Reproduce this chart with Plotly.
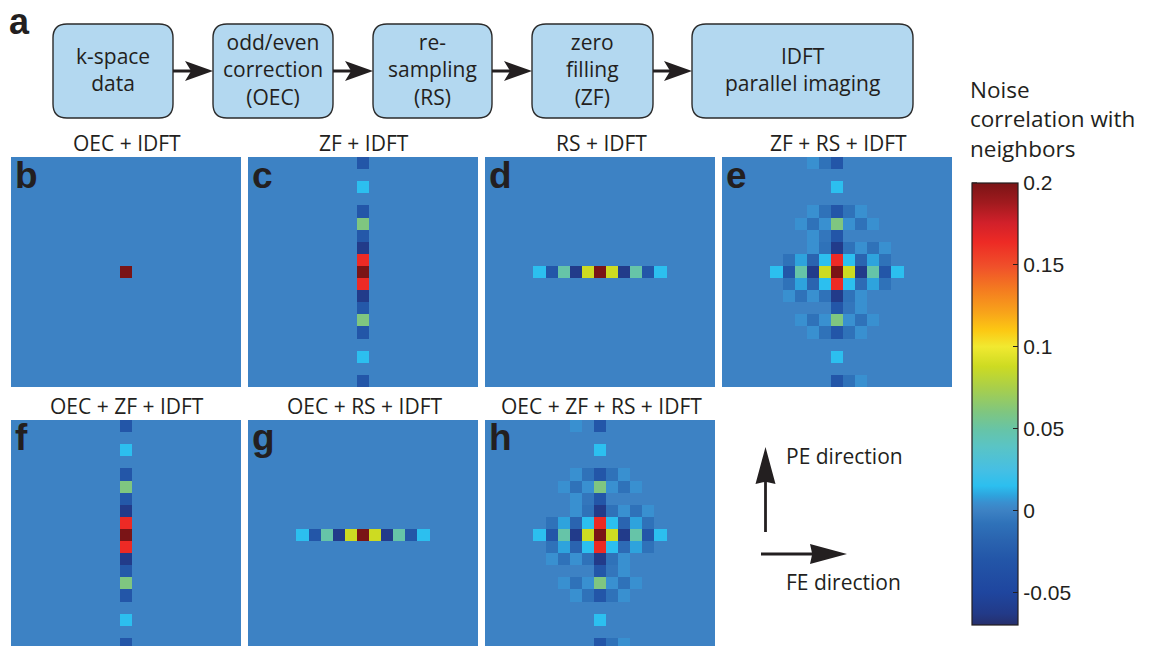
import plotly.graph_objects as go

# ---------------------------------------------------------------------------
# Data: noise correlation of a pixel with its neighbours (19 x 19 window)
# ---------------------------------------------------------------------------
OFFSETS = list(range(-9, 10))

# single-pixel correlation (only the pixel itself)
CENTER_VALUE = 0.2

# zero filling: correlation along the phase-encoding direction (offset -9..9)
ZF_PROFILE = [-0.03, 0, 0.015, 0, -0.03, 0.06, -0.028, -0.062, 0.164, 0.2,
              0.164, -0.062, -0.028, 0.06, -0.03, 0, 0.015, 0, -0.03]

# re-sampling: correlation along the frequency-encoding direction (offset -9..9)
RS_PROFILE = [0, 0, 0, 0, 0.015, -0.03, 0.049, -0.062, 0.088, 0.2,
              0.088, -0.062, 0.049, -0.03, 0.015, 0, 0, 0, 0]

# zero filling + re-sampling: full 2-D correlation map (rows top -> bottom)
ZF_RS_MAP = [
    [0, 0, 0, 0, 0, 0, 0, 0.005, -0.008, -0.03, 0, 0, 0, 0, 0, 0, 0, 0, 0],
    [0, 0, 0, 0, 0, 0, 0, 0, 0, 0, 0, 0, 0, 0, 0, 0, 0, 0, 0],
    [0, 0, 0, 0, 0, 0, 0, 0, 0, 0.015, 0, 0, 0, 0, 0, 0, 0, 0, 0],
    [0, 0, 0, 0, 0, 0, 0, 0, 0, 0, 0, 0, 0, 0, 0, 0, 0, 0, 0],
    [0, 0, 0, 0, 0, 0, 0, 0.005, -0.008, -0.03, -0.008, 0.005, 0, 0, 0, 0, 0, 0, 0],
    [0, 0, 0, 0, 0, 0, 0.005, -0.008, 0.005, 0.06, 0.005, -0.008, 0.005, 0, 0, 0, 0, 0, 0],
    [0, 0, 0, 0, 0, 0, 0, 0.005, -0.006, -0.03, 0, 0, 0, 0, 0, 0, 0, 0, 0],
    [0, 0, 0, 0, 0, 0, 0, 0.005, -0.008, -0.062, -0.008, 0.005, -0.008, 0.005, 0, 0, 0, 0, 0],
    [0, 0, 0, 0, 0, -0.008, 0.009, -0.018, 0.015, 0.164, 0.015, -0.018, 0.009, -0.008, 0, 0, 0, 0, 0],
    [0, 0, 0, 0, 0.015, -0.03, 0.049, -0.062, 0.088, 0.2, 0.088, -0.062, 0.049, -0.03, 0.015, 0, 0, 0, 0],
    [0, 0, 0, 0, 0, -0.008, 0.009, -0.018, 0.015, 0.164, 0.015, -0.013, 0.009, -0.008, 0, 0, 0, 0, 0],
    [0, 0, 0, 0, 0, 0.005, -0.008, 0.005, -0.008, -0.062, -0.008, 0.005, 0, 0, 0, 0, 0, 0, 0],
    [0, 0, 0, 0, 0, 0, 0, 0, 0, -0.03, -0.006, 0.005, 0, 0, 0, 0, 0, 0, 0],
    [0, 0, 0, 0, 0, 0, 0.005, -0.008, 0.005, 0.06, 0.005, -0.008, 0.005, 0, 0, 0, 0, 0, 0],
    [0, 0, 0, 0, 0, 0, 0, 0.005, -0.008, -0.03, -0.008, 0.005, 0, 0, 0, 0, 0, 0, 0],
    [0, 0, 0, 0, 0, 0, 0, 0, 0, 0, 0, 0, 0, 0, 0, 0, 0, 0, 0],
    [0, 0, 0, 0, 0, 0, 0, 0, 0, 0.015, 0, 0, 0, 0, 0, 0, 0, 0, 0],
    [0, 0, 0, 0, 0, 0, 0, 0, 0, 0, 0, 0, 0, 0, 0, 0, 0, 0, 0],
    [0, 0, 0, 0, 0, 0, 0, 0, 0, -0.03, -0.008, 0.005, 0, 0, 0, 0, 0, 0, 0],
]

# odd/even correction + zero filling + re-sampling
OEC_ZF_RS_MAP = [
    [0, 0, 0, 0, 0, 0, 0, 0.005, 0, -0.03, 0, 0, 0, 0, 0, 0, 0, 0, 0],
    [0, 0, 0, 0, 0, 0, 0, 0, 0, 0, 0, 0, 0, 0, 0, 0, 0, 0, 0],
    [0, 0, 0, 0, 0, 0, 0, 0, 0, 0.015, 0, 0, 0, 0, 0, 0, 0, 0, 0],
    [0, 0, 0, 0, 0, 0, 0, 0, 0, 0, 0, 0, 0, 0, 0, 0, 0, 0, 0],
    [0, 0, 0, 0, 0, 0, 0, 0.005, -0.008, -0.03, -0.008, 0.005, 0, 0, 0, 0, 0, 0, 0],
    [0, 0, 0, 0, 0, 0, 0.005, -0.008, 0.005, 0.06, 0.005, -0.008, 0.005, 0, 0, 0, 0, 0, 0],
    [0, 0, 0, 0, 0, 0, 0, 0.005, -0.006, -0.03, 0, 0, 0, 0, 0, 0, 0, 0, 0],
    [0, 0, 0, 0, 0, 0, 0, 0.005, -0.008, -0.062, -0.008, 0.005, -0.008, 0.005, 0, 0, 0, 0, 0],
    [0, 0, 0, 0, 0, -0.008, 0.009, -0.018, 0.015, 0.164, 0.015, -0.018, 0.009, -0.008, 0, 0, 0, 0, 0],
    [0, 0, 0, 0, 0.015, -0.03, 0.049, -0.062, 0.088, 0.2, 0.088, -0.062, 0.049, -0.03, 0.015, 0, 0, 0, 0],
    [0, 0, 0, 0, 0, -0.008, 0.009, -0.018, 0.015, 0.164, 0.015, -0.013, 0.009, -0.008, 0, 0, 0, 0, 0],
    [0, 0, 0, 0, 0, 0.005, -0.008, 0.005, -0.008, -0.062, -0.008, 0.005, 0, 0, 0, 0, 0, 0, 0],
    [0, 0, 0, 0, 0, 0, 0, 0, 0, -0.03, -0.006, 0.005, 0, 0, 0, 0, 0, 0, 0],
    [0, 0, 0, 0, 0, 0, 0.005, -0.008, 0.005, 0.06, 0.005, -0.008, 0.005, 0, 0, 0, 0, 0, 0],
    [0, 0, 0, 0, 0, 0, 0, 0.005, -0.008, -0.03, -0.008, 0.005, 0, 0, 0, 0, 0, 0, 0],
    [0, 0, 0, 0, 0, 0, 0, 0, 0, 0, 0, 0, 0, 0, 0, 0, 0, 0, 0],
    [0, 0, 0, 0, 0, 0, 0, 0, 0, 0.015, 0, 0, 0, 0, 0, 0, 0, 0, 0],
    [0, 0, 0, 0, 0, 0, 0, 0, 0, 0, 0, 0, 0, 0, 0, 0, 0, 0, 0],
    [0, 0, 0, 0, 0, 0, 0, 0, 0, -0.03, -0.008, 0.005, 0, 0, 0, 0, 0, 0, 0],
]

PANEL_LETTERS = ["b", "c", "d", "e", "f", "g", "h"]
PANEL_TITLES = ["OEC + IDFT", "ZF + IDFT", "RS + IDFT", "ZF + RS + IDFT",
                "OEC + ZF + IDFT", "OEC + RS + IDFT", "OEC + ZF + RS + IDFT"]

FLOW_STEPS = ["k-space<br>data", "odd/even<br>correction<br>(OEC)",
              "re-<br>sampling<br>(RS)", "zero<br>filling<br>(ZF)",
              "IDFT<br>parallel imaging"]

CBAR_TITLE = "Noise<br>correlation with<br>neighbors"
CBAR_TICKS = [0.2, 0.15, 0.1, 0.05, 0, -0.05]
CBAR_TICKTEXT = ["0.2", "0.15", "0.1", "0.05", "0", "-0.05"]
ZMIN, ZMAX = -0.07, 0.2

# jet-like palette as printed (value -> colour)
PALETTE_VALUES = [-0.07, -0.063, -0.05, -0.03, -0.018, -0.008, 0, 0.005, 0.009,
                  0.015, 0.025, 0.039, 0.049, 0.06, 0.075, 0.088, 0.1, 0.11,
                  0.121, 0.135, 0.149, 0.164, 0.176, 0.188, 0.2]
PALETTE_COLORS = ["#262f6c", "#223a88", "#1f469f", "#2356a8", "#2a64b0", "#2f72b9",
                  "#3d82c4", "#3990d0", "#2ea3dd", "#2cbfef", "#46bfe3", "#5ac4c5",
                  "#66c4a8", "#7fc680", "#a9cf4a", "#cddb22", "#f1e930", "#fcc813",
                  "#f8a31a", "#f47b20", "#f0502a", "#ed2a25", "#d0202a", "#a01a1e",
                  "#7a1416"]

# ---------------------------------------------------------------------------
# Helpers (pixel -> paper coordinates)
# ---------------------------------------------------------------------------
W, H = 1149, 646


def px(x):
    return x / W


def py(y):
    return 1 - y / H


def grid_zero():
    return [[0.0 for _ in OFFSETS] for _ in OFFSETS]


def point_map(value):
    z = grid_zero()
    z[9][9] = value
    return z


def column_map(profile):
    z = grid_zero()
    for i, v in enumerate(profile):
        z[i][9] = v
    return z


def row_map(profile):
    z = grid_zero()
    z[9] = list(profile)
    return z


maps = [point_map(CENTER_VALUE), column_map(ZF_PROFILE), row_map(RS_PROFILE),
        ZF_RS_MAP, column_map(ZF_PROFILE), row_map(RS_PROFILE), OEC_ZF_RS_MAP]

PANEL_SIZE = 230
col_left = [11, 248, 485, 722]
row_top = [157, 420]
panel_pos = [(col_left[i], row_top[0]) for i in range(4)] + \
            [(col_left[i], row_top[1]) for i in range(3)]

fig = go.Figure()
layout_axes = {}
n_cells = len(OFFSETS)
cell_px = PANEL_SIZE / n_cells

for i, (z, (left, top)) in enumerate(zip(maps, panel_pos), start=1):
    fig.add_trace(go.Heatmap(z=z, x=OFFSETS, y=OFFSETS, coloraxis="coloraxis",
                             xaxis=f"x{i}", yaxis=f"y{i}", hoverinfo="skip"))
    bottom = min(top + PANEL_SIZE, H)
    visible_rows = (bottom - top) / cell_px
    sfx = "" if i == 1 else str(i)
    layout_axes[f"xaxis{sfx}"] = dict(domain=[px(left), px(left + PANEL_SIZE)],
                                      range=[-9.5, 9.5], visible=False,
                                      anchor=f"y{i}", fixedrange=True)
    layout_axes[f"yaxis{sfx}"] = dict(domain=[py(bottom), py(top)],
                                      range=[-9.5 + visible_rows, -9.5],
                                      visible=False, anchor=f"x{i}", fixedrange=True)

colorscale = [[(v - ZMIN) / (ZMAX - ZMIN), c] for v, c in zip(PALETTE_VALUES, PALETTE_COLORS)]

CB_TOP, CB_BOTTOM, CB_LEFT, CB_W = 183, 625, 972, 46

TEXT = "#231f20"
annotations = []
shapes = []

# panel titles and letters
for (left, top), letter, title in zip(panel_pos, PANEL_LETTERS, PANEL_TITLES):
    annotations.append(dict(x=px(left + PANEL_SIZE / 2 + 1), y=py(top - 14), xref="paper", yref="paper",
                            text=title, showarrow=False, xanchor="center", yanchor="middle",
                            font=dict(family="Open Sans", size=21, color=TEXT)))
    annotations.append(dict(x=px(left + 2), y=py(top + 18), xref="paper", yref="paper",
                            text=f"<b>{letter}</b>", showarrow=False, xanchor="left", yanchor="middle",
                            font=dict(family="Liberation Sans", size=37, color=TEXT)))

annotations.append(dict(x=px(7), y=py(22), xref="paper", yref="paper", text="<b>a</b>",
                        showarrow=False, xanchor="left", yanchor="middle",
                        font=dict(family="Liberation Sans", size=36, color=TEXT)))

# flow diagram boxes
boxes = [(53, 173), (213, 333), (373, 492), (532, 653), (692, 913)]
BOX_TOP, BOX_BOTTOM, RAD = 24, 118, 14


def rounded_rect(x0, y0, x1, y1, r):
    rx, ry = r / W, r / H
    X0, X1, Y0, Y1 = px(x0), px(x1), py(y0), py(y1)
    return (f"M {X0 + rx},{Y0} L {X1 - rx},{Y0} Q {X1},{Y0} {X1},{Y0 - ry} "
            f"L {X1},{Y1 + ry} Q {X1},{Y1} {X1 - rx},{Y1} L {X0 + rx},{Y1} "
            f"Q {X0},{Y1} {X0},{Y1 + ry} L {X0},{Y0 - ry} Q {X0},{Y0} {X0 + rx},{Y0} Z")


def arrow_head(tip_x, tip_y, dx, dy, length, width, notch=0.25):
    # dx, dy: unit direction of the arrow in pixel space
    nx, ny = -dy, dx
    bx, by = tip_x - dx * length, tip_y - dy * length
    mx, my = tip_x - dx * length * (1 - notch), tip_y - dy * length * (1 - notch)
    pts = [(tip_x, tip_y), (bx + nx * width / 2, by + ny * width / 2), (mx, my),
           (bx - nx * width / 2, by - ny * width / 2)]
    return "M " + " L ".join(f"{px(a)},{py(b)}" for a, b in pts) + " Z"


for (x0, x1), label in zip(boxes, FLOW_STEPS):
    shapes.append(dict(type="path", xref="paper", yref="paper",
                       path=rounded_rect(x0, BOX_TOP, x1, BOX_BOTTOM, RAD),
                       fillcolor="#b3d8f0", line=dict(color="#2b2b2b", width=1.4)))
    annotations.append(dict(x=px((x0 + x1) / 2), y=py(69), xref="paper", yref="paper",
                            text=label, showarrow=False, xanchor="center", yanchor="middle",
                            font=dict(family="Open Sans", size=21, color=TEXT)))

ARROW_Y = 71
for (a0, a1), (b0, b1) in zip(boxes[:-1], boxes[1:]):
    shapes.append(dict(type="line", xref="paper", yref="paper",
                       x0=px(a1), x1=px(b0 - 20), y0=py(ARROW_Y), y1=py(ARROW_Y),
                       line=dict(color="#231f20", width=3)))
    shapes.append(dict(type="path", xref="paper", yref="paper",
                       path=arrow_head(b0, ARROW_Y, 1, 0, 28, 20, 0.22),
                       fillcolor="#231f20", line=dict(width=0)))

# PE / FE direction arrows
shapes.append(dict(type="line", xref="paper", yref="paper", x0=px(765.5), x1=px(765.5),
                   y0=py(532), y1=py(478), line=dict(color="#231f20", width=2.8)))
shapes.append(dict(type="path", xref="paper", yref="paper",
                   path=arrow_head(765.5, 447, 0, -1, 37, 20, 0.06),
                   fillcolor="#231f20", line=dict(width=0)))
shapes.append(dict(type="line", xref="paper", yref="paper", x0=px(761), x1=px(815),
                   y0=py(554), y1=py(554), line=dict(color="#231f20", width=2.8)))
shapes.append(dict(type="path", xref="paper", yref="paper",
                   path=arrow_head(847, 554, 1, 0, 37, 20, 0.06),
                   fillcolor="#231f20", line=dict(width=0)))
annotations.append(dict(x=px(784), y=py(456), xref="paper", yref="paper", text="PE direction",
                        showarrow=False, xanchor="left", yanchor="middle",
                        font=dict(family="Open Sans", size=21, color=TEXT)))
annotations.append(dict(x=px(784), y=py(582), xref="paper", yref="paper", text="FE direction",
                        showarrow=False, xanchor="left", yanchor="middle",
                        font=dict(family="Open Sans", size=21, color=TEXT)))

# colour bar title
annotations.append(dict(x=px(968), y=py(119), xref="paper", yref="paper", text=CBAR_TITLE,
                        showarrow=False, xanchor="left", yanchor="middle", align="left",
                        font=dict(family="Open Sans", size=22.5, color=TEXT)))


def cbar_y(v):
    return CB_BOTTOM - (v - ZMIN) / (ZMAX - ZMIN) * (CB_BOTTOM - CB_TOP)


# left-side tick marks of the colour bar
for v in CBAR_TICKS:
    yy = cbar_y(v)
    shapes.append(dict(type="line", xref="paper", yref="paper", x0=px(CB_LEFT), x1=px(CB_LEFT + 5),
                       y0=py(yy), y1=py(yy), line=dict(color="#231f20", width=1.2)))

fig.update_layout(
    width=W, height=H,
    margin=dict(l=0, r=0, t=0, b=0),
    paper_bgcolor="white", plot_bgcolor="white",
    showlegend=False,
    coloraxis=dict(
        colorscale=colorscale, cmin=ZMIN, cmax=ZMAX,
        colorbar=dict(
            x=px(CB_LEFT), xanchor="left", xpad=0,
            y=py((CB_TOP + CB_BOTTOM) / 2), yanchor="middle", ypad=0,
            len=(CB_BOTTOM - CB_TOP) / H, lenmode="fraction",
            thickness=CB_W, thicknessmode="pixels",
            outlinewidth=1.2, outlinecolor="#231f20",
            tickvals=CBAR_TICKS, ticktext=CBAR_TICKTEXT,
            ticks="inside", ticklen=5, tickwidth=1.2, tickcolor="#231f20",
            tickfont=dict(family="Liberation Sans", size=21, color=TEXT),
        ),
    ),
    annotations=annotations,
    shapes=shapes,
    **layout_axes,
)

fig.write_html("out.html")
